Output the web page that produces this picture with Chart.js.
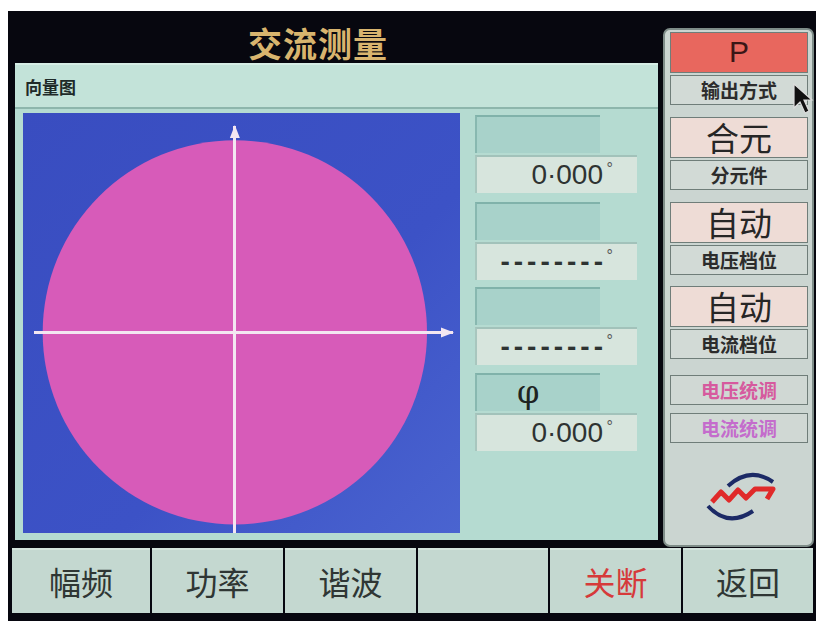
<!DOCTYPE html>
<html>
<head>
<meta charset="utf-8">
<script src="https://cdn.jsdelivr.net/npm/chart.js@4.4.0/dist/chart.umd.min.js"></script>
<style>
body{margin:0;width:816px;height:621px;background:#fff;position:relative;overflow:hidden;font-family:"Noto Sans CJK SC",sans-serif}
.abs{position:absolute;box-sizing:border-box}
#frame{left:8px;top:11px;width:808px;height:610px;background:#07070f}
#title{left:213px;top:19px;width:210px;height:48px;text-align:center;font-size:34px;font-weight:bold;color:#d8b46e;line-height:48px;letter-spacing:1px}
#panel{left:15px;top:63px;width:643px;height:477px;background:#b5dbd1;border-top:2px solid #d2ece4}
#head{left:15px;top:63px;width:643px;height:46px;background:#c3e3d9;border-bottom:2px solid #8db6ac;border-top:2px solid #d6eee6;font-size:17px;font-weight:bold;color:#1e2a28;padding-left:10px;line-height:44px}
#plot{left:23px;top:113px;width:437px;height:420px;background:linear-gradient(135deg,#394dc0 0%,#3c52c6 60%,#4a64d0 100%)}
.tl{left:475px;width:125px;background:#a8d2ca;border-top:2px solid #80b2aa;border-left:2px solid #88b8b0}
.lt{left:475px;width:162px;background:#d7e5dd;border-top:2px solid #a2c2ba;border-left:2px solid #a8c6be;text-align:right;padding-right:34px;font:28px "Liberation Sans",sans-serif;color:#2e3332;line-height:36px}
.lt .deg{position:absolute;right:24px;top:2px;font-size:16px;line-height:20px;color:#555;letter-spacing:0;font-weight:normal}
.lt.dash{letter-spacing:4px;font-weight:bold;padding-right:30px}
.phi{font:32px "DejaVu Serif",serif;color:#1e2422;padding-left:40px;line-height:34px}
#side{left:663px;top:28px;width:151px;height:519px;background:#cbd5d1;border:2px solid #7e8c88;border-radius:7px}
.sb{left:670px;width:138px;border:1.5px solid #6f7d79;text-align:center;color:#262626}
.bb{top:548px;height:65px;background:#c4d8d0;text-align:center;font-size:32px;line-height:63px;color:#2f3634;border-top:2px solid #d4e4de}
#cursor{z-index:5}
</style>
</head>
<body>
<div id="frame" class="abs"></div>
<div id="title" class="abs">交流测量</div>
<div id="panel" class="abs"></div>
<div id="head" class="abs">向量图</div>
<div id="plot" class="abs"><canvas id="vectorChart"></canvas></div>
<div id="side" class="abs"></div>
<svg class="abs" style="left:700px;top:465px" width="90" height="60" viewBox="0 0 90 60">
  <path d="M28 21 Q50 1 73 17" stroke="#1c2a66" stroke-width="4" fill="none"/>
  <path d="M8 41 Q28 63 53 46" stroke="#1c2a66" stroke-width="4" fill="none"/>
  <path d="M12 37 L21 27 L29 35 L38 25 L46 33 L55 24 L73 24 L67 34" stroke="#e02a2a" stroke-width="5" fill="none" stroke-linejoin="round"/>
</svg>
<svg id="cursor" class="abs" style="left:791px;top:82px" width="24" height="36" viewBox="0 0 24 36">
  <path d="M3 2 L3 26 L9 20 L14 31 L18 29 L13 18 L21 18 Z" fill="#111" stroke="#ddd" stroke-width="1.2"/>
</svg>
<script>
// vector diagram values
const xRange = [-1.04, 1.13];
const yRange = [-1.04, 1.07];
const boundaryCircle = [{ x: 0, y: 0, r: 1 }];

// readouts next to the diagram
const readoutNames = ['', '', '', 'φ'];
const readoutValues = ['0·000', '--------', '--------', '0·000'];

// buttons
const sideValues = ['P', '合元', '自动', '自动'];
const sideNames = ['输出方式', '分元件', '电压档位', '电流档位'];
const sideExtra = ['电压统调', '电流统调'];
const bottomLabels = ['幅频', '功率', '谐波', '', '关断', '返回'];

const axisColor = '#f3e6f1';
const circleColor = '#d75bb9';

function addBox(cls, top, height, html, style) {
  const el = document.createElement('div');
  el.className = 'abs ' + cls;
  el.style.top = top + 'px';
  el.style.height = height + 'px';
  if (style) el.style.cssText += style;
  el.innerHTML = html;
  document.body.appendChild(el);
  return el;
}

// readout column
const readTops = [115, 202, 287, 373];
for (let i = 0; i < readoutNames.length; i++) {
  const t = readTops[i];
  addBox('tl' + (readoutNames[i] ? ' phi' : ''), t, 38, readoutNames[i]);
  const v = readoutValues[i];
  addBox('lt' + (v.indexOf('-') >= 0 ? ' dash' : ''), t + 40, 38, v + '<span class="deg">°</span>');
}

// side column
const sideTops = [32, 117, 202, 286];
const valueBg = ['#e8675e', '#eedcd6', '#eedcd6', '#eedcd6'];
for (let i = 0; i < sideValues.length; i++) {
  const t = sideTops[i];
  const big = i === 0 ? 'font:30px "Liberation Sans",sans-serif;color:#3a1616;line-height:38px;' : 'font-size:33px;line-height:38px;';
  addBox('sb', t, 41, sideValues[i], big + 'background:' + valueBg[i]);
  addBox('sb', t + 43, 30, sideNames[i], 'background:#d2dad6;font-size:19px;font-weight:bold;line-height:27px;color:#2c2c2c');
}
const extraColors = ['#d65a9e', '#c46ccc'];
for (let i = 0; i < sideExtra.length; i++) {
  addBox('sb', 375 + i * 38, 30, sideExtra[i], 'background:#d0d8d4;font-size:19px;font-weight:bold;line-height:27px;color:' + extraColors[i]);
}

// bottom row
const bottomLefts = [12, 152, 285, 418, 550, 683];
for (let i = 0; i < bottomLabels.length; i++) {
  const w = (i < 5 ? bottomLefts[i + 1] - 2 : 813) - bottomLefts[i];
  addBox('bb', 548, 65, bottomLabels[i], 'left:' + bottomLefts[i] + 'px;width:' + w + 'px;' + (i === 4 ? 'color:#d63a3a' : ''));
}

const axisArrows = {
  id: 'axisArrows',
  afterDraw(chart) {
    const c = chart.ctx, a = chart.chartArea;
    const x0 = chart.scales.x.getPixelForValue(0);
    const y0 = chart.scales.y.getPixelForValue(0);
    c.save();
    c.fillStyle = axisColor;
    c.beginPath();
    c.moveTo(a.right + 2, y0); c.lineTo(a.right - 11, y0 - 5); c.lineTo(a.right - 11, y0 + 5); c.closePath();
    c.moveTo(x0, a.top - 2); c.lineTo(x0 - 5, a.top + 11); c.lineTo(x0 + 5, a.top + 11); c.closePath();
    c.fill();
    c.restore();
  }
};

function radiusPx(ctx) {
  const s = ctx.chart.scales.x;
  if (!s || !ctx.raw) return 0;
  return Math.abs(s.getPixelForValue(ctx.raw.r) - s.getPixelForValue(0));
}

new Chart(document.getElementById('vectorChart'), {
  type: 'scatter',
  data: {
    datasets: [{
      data: boundaryCircle,
      pointRadius: radiusPx,
      pointHoverRadius: radiusPx,
      backgroundColor: circleColor,
      borderWidth: 0,
      clip: false
    }]
  },
  options: {
    responsive: true,
    maintainAspectRatio: false,
    animation: false,
    events: [],
    layout: { padding: { left: 12, right: 8, top: 14, bottom: 1 } },
    plugins: { legend: { display: false }, tooltip: { enabled: false } },
    scales: {
      x: {
        type: 'linear', min: xRange[0], max: xRange[1], position: { y: 0 },
        grid: { display: false }, ticks: { display: false },
        border: { display: true, color: axisColor, width: 3, z: 1 }
      },
      y: {
        type: 'linear', min: yRange[0], max: yRange[1], position: { x: 0 },
        grid: { display: false }, ticks: { display: false },
        border: { display: true, color: axisColor, width: 3, z: 1 }
      }
    }
  },
  plugins: [axisArrows]
});
</script>
</body>
</html>
